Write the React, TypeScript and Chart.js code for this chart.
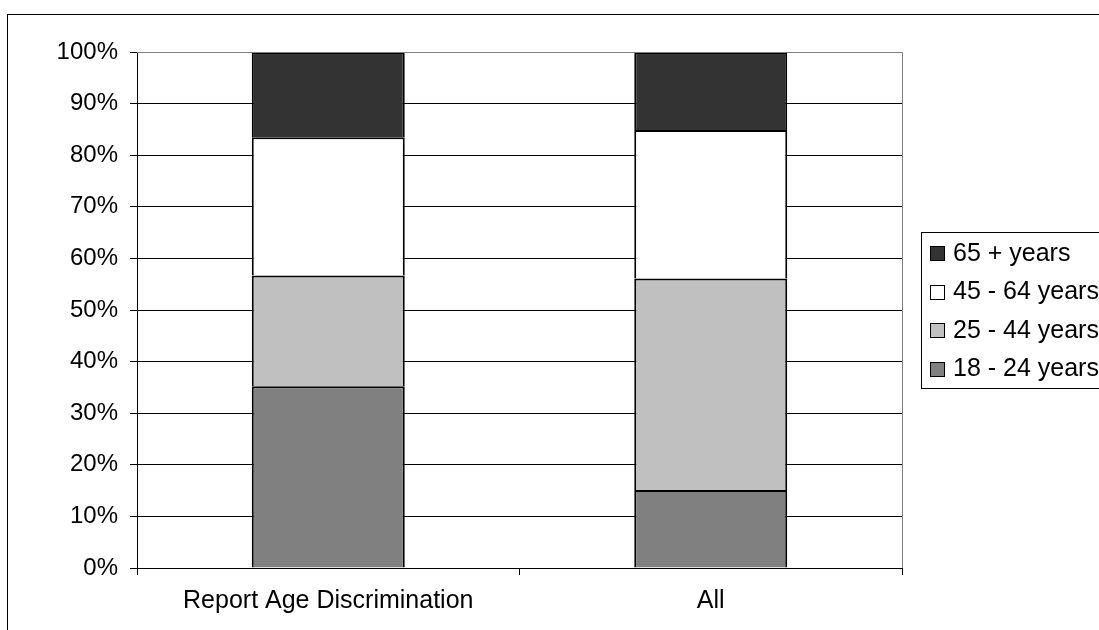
import React, { useEffect, useRef } from "react";
import { Chart, registerables } from "chart.js";

Chart.register(...registerables);

const categories = ["Report Age Discrimination", "All"];
const seriesLabels = ["18 - 24 years", "25 - 44 years", "45 - 64 years", "65 + years"];
const age18to24 = [35.2, 15.1];
const age25to44 = [21.5, 41.0];
const age45to64 = [26.8, 28.8];
const age65plus = [16.5, 15.1];
const seriesColors = ["#808080", "#c0c0c0", "#ffffff", "#333333"];
const yTicks = [0, 10, 20, 30, 40, 50, 60, 70, 80, 90, 100];

const FONT = "'Liberation Sans', Arial, sans-serif";

const framePlugin = {
  id: "frame",
  afterDraw(chart: any) {
    const ctx = chart.ctx;
    const a = chart.chartArea;
    ctx.save();
    // outer chart border
    ctx.strokeStyle = "#000";
    ctx.lineWidth = 1;
    ctx.strokeRect(7.5, 14.5, 2000, 2000);
    // plot area top/right border
    ctx.strokeStyle = "#808080";
    ctx.beginPath();
    ctx.moveTo(a.left, Math.round(a.top) + 0.5);
    ctx.lineTo(Math.round(a.right) + 0.5, Math.round(a.top) + 0.5);
    ctx.lineTo(Math.round(a.right) + 0.5, a.bottom);
    ctx.stroke();
    // legend
    const lx = 921.5, ly = 232.5, lw = 400, lh = 156;
    ctx.fillStyle = "#fff";
    ctx.fillRect(lx, ly, lw, lh);
    ctx.strokeStyle = "#000";
    ctx.strokeRect(lx, ly, lw, lh);
    const ds = chart.data.datasets.slice().reverse();
    ctx.font = "25px " + FONT;
    ctx.textBaseline = "middle";
    ds.forEach((d: any, i: number) => {
      const cy = 253 + i * 38.5;
      ctx.fillStyle = d.backgroundColor;
      ctx.fillRect(930.5, Math.round(cy - 7) + 0.5, 14, 14);
      ctx.strokeStyle = "#000";
      ctx.strokeRect(930.5, Math.round(cy - 7) + 0.5, 14, 14);
      ctx.fillStyle = "#000";
      ctx.fillText(d.label, 953, cy + 1);
    });
    ctx.restore();
  },
};

export default function App() {
  const ref = useRef<HTMLCanvasElement | null>(null);
  useEffect(() => {
    if (!ref.current) return;
    const values = [age18to24, age25to44, age45to64, age65plus];
    const chart = new Chart(ref.current, {
      type: "bar",
      data: {
        labels: categories,
        datasets: seriesLabels.map((label, i) => ({
          label,
          data: values[i],
          backgroundColor: seriesColors[i],
          borderColor: "#000",
          borderWidth: 2,
          barPercentage: 0.4,
          categoryPercentage: 1,
        })),
      },
      options: {
        animation: false,
        responsive: true,
        maintainAspectRatio: false,
        layout: { padding: { left: 0, right: 238, top: 52, bottom: 32 } },
        plugins: { legend: { display: false }, tooltip: { enabled: false } },
        scales: {
          x: {
            stacked: true,
            grid: {
              drawOnChartArea: false,
              drawTicks: true,
              tickLength: 7,
              tickColor: "#000",
              color: "#000",
            },
            border: { color: "#000", width: 1 },
            ticks: { color: "#000", font: { family: FONT, size: 25 }, padding: 11 },
            afterFit(scale: any) {
              scale.height = 60;
            },
          },
          y: {
            stacked: true,
            min: 0,
            max: 100,
            afterBuildTicks(scale: any) {
              scale.ticks = yTicks.map((v) => ({ value: v }));
            },
            grid: {
              color: (c: any) => (c.tick && c.tick.value === 100 ? "#808080" : "#000"),
              tickColor: "#000",
              tickLength: 7,
            },
            border: { color: "#000", width: 1 },
            ticks: {
              color: "#000",
              font: { family: FONT, size: 24 },
              padding: 12,
              callback: (v: any) => v + "%",
            },
            afterFit(scale: any) {
              scale.width = 137;
            },
          },
        },
      },
      plugins: [framePlugin],
    });
    return () => chart.destroy();
  }, []);
  return (
    <div style={{ position: "fixed", left: 0, top: 0, width: 1099, height: 630, overflow: "hidden", background: "#fff" }}>
      <div style={{ position: "absolute", left: 0, top: 0, width: 1140, height: 660 }}>
        <canvas ref={ref} />
      </div>
    </div>
  );
}
